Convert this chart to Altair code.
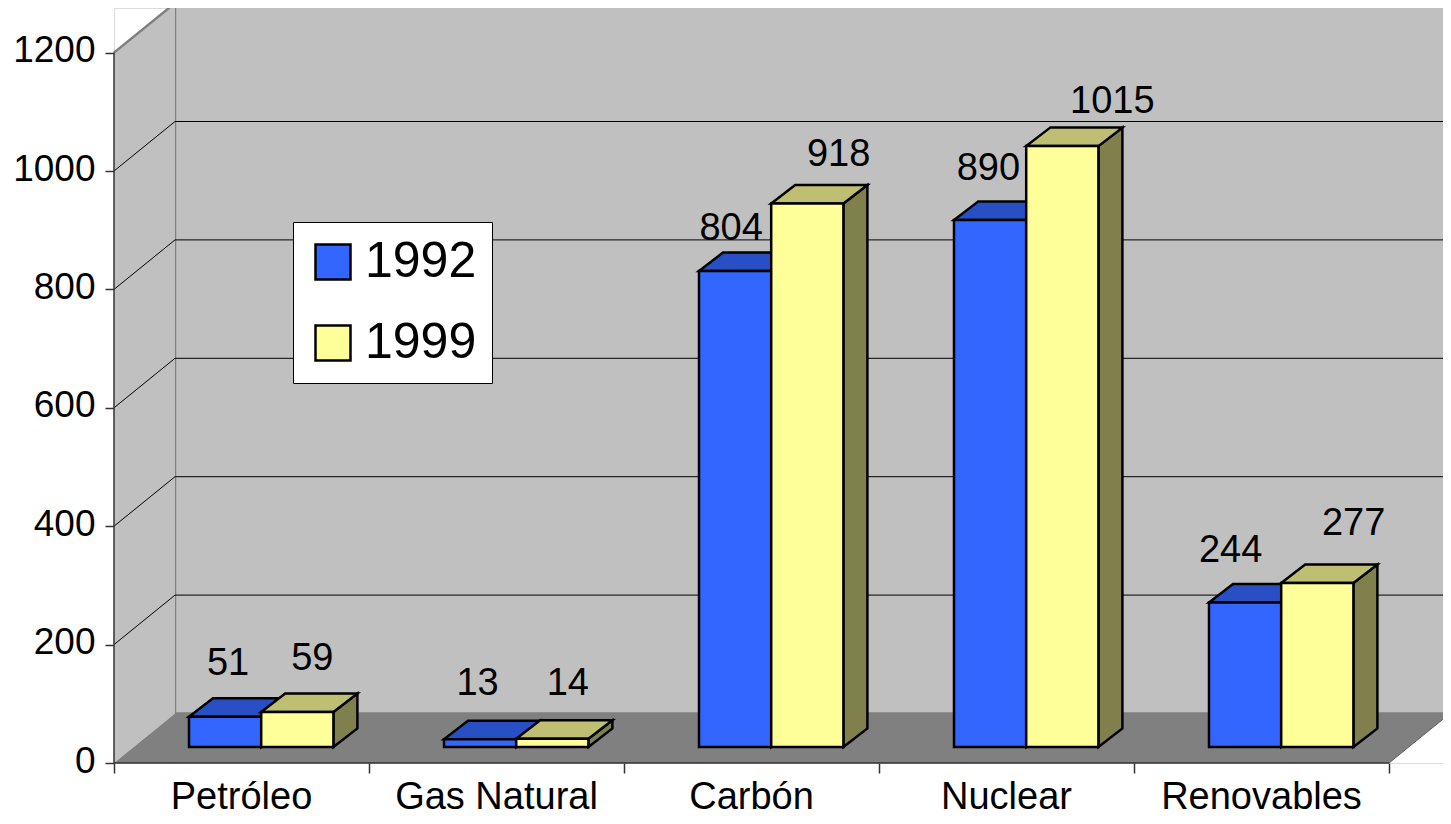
import altair as alt
import pandas as pd

# ---------------- data ----------------
categories = ["Petróleo", "Gas Natural", "Carbón", "Nuclear", "Renovables"]
years = ["1992", "1999"]
values_1992 = [51, 13, 804, 890, 244]
values_1999 = [59, 14, 918, 1015, 277]
y_ticks = [0, 200, 400, 600, 800, 1000, 1200]
y_top = 1200

# ---------------- geometry / style constants ----------------
W, H = 1329, 755
PX_X = 255.0          # pixels per category slot
PX_Y = 118.4 / 200    # pixels per value unit
XMAX = W / PX_X
YMAX = H / PX_Y
WALL_DX, WALL_DY = 61 / PX_X, 49.5 / PX_Y
BAR_DX0, BAR_DY0 = 19.7 / PX_X, 16 / PX_Y
BAR_DX, BAR_DY = 24 / PX_X, 18.5 / PX_Y
BAR_GAP, BAR_W = 55.3 / PX_X, 72.2 / PX_X

FRONT = {"1992": "#3366FF", "1999": "#FFFF99"}
TOPC = {"1992": "#2850C4", "1999": "#BFBF73"}
SIDE = {"1992": "#1A3380", "1999": "#80804C"}

# label nudges in pixels (horizontal from bar centre, vertical above bar top)
lab_dx = {"1992": [3, -2.5, -4, -1.7, -14.5], "1999": [15, 15.5, 31.3, 50, 36.3]}
lab_up = {"1992": [41.7, 44, 31.4, 39.8, 40.6], "1999": [42.5, 43.4, 37.2, 33.1, 47.7]}

FONT = "Liberation Sans"

xs = alt.Scale(domain=[0, XMAX], nice=False, zero=False)
ys = alt.Scale(domain=[0, YMAX], nice=False, zero=False)
x_axis = alt.Axis(values=list(range(len(categories) + 1)), labels=False, domain=False,
                  grid=False, ticks=True, tickSize=10, tickColor="#333333",
                  tickWidth=1.5, title=None)
y_axis = alt.Axis(values=y_ticks, format="d", domain=False, grid=False, tickSize=9,
                  tickColor="#333333", tickWidth=1.5, labelFontSize=37,
                  labelFont=FONT, labelColor="black", labelPadding=10,
                  labelOffset=-2, title=None)


def X(f):
    return alt.X(f"{f}:Q", scale=xs, axis=x_axis)


def Y(f):
    return alt.Y(f"{f}:Q", scale=ys, axis=y_axis)


# ---------------- build tables ----------------
vals = {"1992": values_1992, "1999": values_1999}
fronts, tops, sides, labels = [], [], [], []
for j, yr in enumerate(years):
    for i, cat in enumerate(categories):
        v = vals[yr][i]
        xl = i + BAR_DX0 + BAR_GAP + j * BAR_W
        xr = xl + BAR_W
        yb = BAR_DY0
        yt = v + BAR_DY0
        fronts.append({"x": xl, "x2": xr, "y": yb, "y2": yt, "year": yr})
        fid = f"{yr}-{i}"
        tops.append({"id": fid, "y": yt, "x": xl, "x2": xr, "fill": TOPC[yr]})
        tops.append({"id": fid, "y": yt + BAR_DY, "x": xl + BAR_DX, "x2": xr + BAR_DX, "fill": TOPC[yr]})
        sides.append({"id": fid, "x": xr, "y": yb, "y2": yt, "fill": SIDE[yr]})
        sides.append({"id": fid, "x": xr + BAR_DX, "y": yb + BAR_DY, "y2": yt + BAR_DY, "fill": SIDE[yr]})
        labels.append({"x": (xl + xr) / 2 + lab_dx[yr][i] / PX_X,
                       "y": yt + lab_up[yr][i] / PX_Y, "text": str(v)})

fronts = pd.DataFrame(fronts)
tops = pd.DataFrame(tops)
sides = pd.DataFrame(sides)
labels = pd.DataFrame(labels)
cat_df = pd.DataFrame({"x": [i + 0.5 for i in range(len(categories))],
                       "y": [0] * len(categories), "text": categories})

n = len(categories)
back_wall = pd.DataFrame([{"x": WALL_DX, "x2": n + WALL_DX, "y": WALL_DY, "y2": y_top + WALL_DY}])
side_wall = pd.DataFrame([{"x": 0, "y": 0, "y2": y_top},
                          {"x": WALL_DX, "y": WALL_DY, "y2": y_top + WALL_DY}])
floor = pd.DataFrame([{"y": 0, "x": 0, "x2": n},
                      {"y": WALL_DY, "x": WALL_DX, "x2": n + WALL_DX}])
grid_vals = [t for t in y_ticks if 0 < t < y_top]
back_grid = pd.DataFrame({"x": [WALL_DX] * len(grid_vals), "x2": [n + WALL_DX] * len(grid_vals),
                          "y": [g + WALL_DY for g in grid_vals]})
side_grid = pd.DataFrame(
    [{"id": g, "x": 0, "y": g} for g in grid_vals] +
    [{"id": g, "x": WALL_DX, "y": g + WALL_DY} for g in grid_vals])
wall_edge = pd.DataFrame([{"x": 0, "y": y_top}, {"x": WALL_DX, "y": y_top + WALL_DY}])
floor_edge = pd.DataFrame([{"x": n, "y": 0}, {"x": n + WALL_DX, "y": WALL_DY}])
axis_lines = pd.DataFrame([{"x": 0, "x2": n, "y": 0, "y2": 0},
                           {"x": 0, "x2": 0, "y": 0, "y2": y_top}])

# ---------------- layers ----------------
l_back = alt.Chart(back_wall).mark_rect(fill="#C0C0C0", stroke="#808080", strokeWidth=2.5).encode(
    x=X("x"), x2="x2", y=Y("y"), y2="y2")
l_side = alt.Chart(side_wall).mark_area(orient="vertical", fill="#C0C0C0").encode(
    x=X("x"), y=Y("y"), y2="y2")
l_floor = alt.Chart(floor).mark_area(orient="horizontal", fill="#808080").encode(
    y=Y("y"), x=X("x"), x2="x2")
l_bgrid = alt.Chart(back_grid).mark_rule(color="black", strokeWidth=1).encode(
    x=X("x"), x2="x2", y=Y("y"))
l_sgrid = alt.Chart(side_grid).mark_line(color="black", strokeWidth=1).encode(
    x=X("x"), y=Y("y"), detail="id:N")
l_wedge = alt.Chart(wall_edge).mark_line(color="#808080", strokeWidth=2.5).encode(
    x=X("x"), y=Y("y"))
l_fedge = alt.Chart(floor_edge).mark_line(color="#606060", strokeWidth=1).encode(
    x=X("x"), y=Y("y"))
l_axes = alt.Chart(axis_lines).mark_rule(color="#333333", strokeWidth=1.5).encode(
    x=X("x"), x2="x2", y=Y("y"), y2="y2")

l_bsides = alt.Chart(sides).mark_area(orient="vertical", stroke="black", strokeWidth=2.5).encode(
    x=X("x"), y=Y("y"), y2="y2", detail="id:N", fill=alt.Fill("fill:N", scale=None))
l_btops = alt.Chart(tops).mark_area(orient="horizontal", stroke="black", strokeWidth=2.5).encode(
    y=Y("y"), x=X("x"), x2="x2", detail="id:N", fill=alt.Fill("fill:N", scale=None))
l_bfront = alt.Chart(fronts).mark_rect(stroke="black", strokeWidth=2.5).encode(
    x=X("x"), x2="x2", y=Y("y"), y2="y2",
    fill=alt.Fill("year:N",
                  scale=alt.Scale(domain=years, range=[FRONT[y] for y in years]),
                  legend=alt.Legend(orient="none", legendX=179, legendY=214, title=None,
                                    fillColor="white", strokeColor="black", padding=15,
                                    symbolType="square", symbolSize=1225,
                                    symbolStrokeColor="black", symbolStrokeWidth=2.5,
                                    labelFontSize=50, labelFont=FONT, labelColor="black",
                                    labelOffset=7, rowPadding=31, labelLimit=400)))

l_vlab = alt.Chart(labels).mark_text(align="center", baseline="alphabetic", fontSize=38,
                                     font=FONT, color="black").encode(
    x=X("x"), y=Y("y"), text="text:N")
l_clab = alt.Chart(cat_df).mark_text(align="center", baseline="alphabetic", fontSize=38,
                                     font=FONT, color="black", dy=46).encode(
    x=X("x"), y=Y("y"), text="text:N")

chart = alt.layer(
    l_back, l_side, l_floor, l_bgrid, l_sgrid, l_wedge, l_fedge, l_axes,
    l_bsides, l_btops, l_bfront, l_vlab, l_clab
).properties(
    width=W, height=H,
    padding={"left": 106, "top": 0, "right": 0, "bottom": 53},
    autosize=alt.AutoSizeParams(type="none"),
    background="white",
).configure_view(stroke=None).configure(font=FONT)

chart.save("out.html", embed_options={"renderer": "svg", "actions": False})
